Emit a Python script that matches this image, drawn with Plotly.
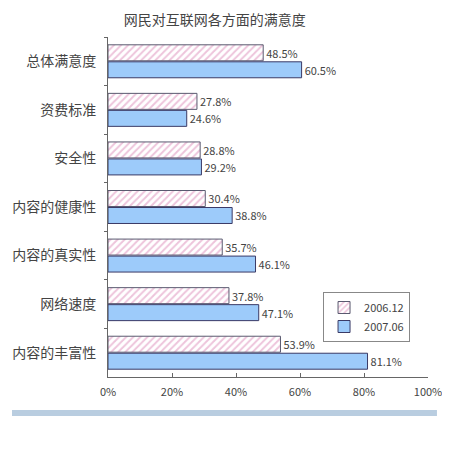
import plotly.graph_objects as go

# categories listed top to bottom
categories = ["总体满意度", "资费标准", "安全性", "内容的健康性", "内容的真实性", "网络速度", "内容的丰富性"]
series_names = ["2006.12", "2007.06"]
values_2006 = [48.5, 27.8, 28.8, 30.4, 35.7, 37.8, 53.9]
values_2007 = [60.5, 24.6, 29.2, 38.8, 46.1, 47.1, 81.1]
x_ticks = [0, 20, 40, 60, 80, 100]
x_tick_labels = ["0%", "20%", "40%", "60%", "80%", "100%"]

font_name = "Noto Sans CJK SC"

fig = go.Figure()

# pink hatched bars
fig.add_trace(go.Bar(
    y=categories, x=values_2006, orientation="h", name=series_names[0],
    marker=dict(color="white", line=dict(color="#5a5a70", width=1),
                pattern=dict(shape="/", fgcolor="#dc8ab8", size=5, solidity=0.4)),
    text=[f"{v}%" for v in values_2006], textposition="outside",
    textfont=dict(size=11, color="#444444", family=font_name),
    cliponaxis=False,
))
# blue bars
fig.add_trace(go.Bar(
    y=categories, x=values_2007, orientation="h", name=series_names[1],
    marker=dict(color="#9dcbfa", line=dict(color="#3a3a66", width=1)),
    text=[f"{v}%" for v in values_2007], textposition="outside",
    textfont=dict(size=11, color="#444444", family=font_name),
    cliponaxis=False,
))

# page body adds an 8px margin, so the figure is drawn 8px smaller
fig.update_layout(
    width=442, height=444,
    margin=dict(l=100, r=22, t=29, b=75, autoexpand=False),
    paper_bgcolor="white", plot_bgcolor="white",
    font=dict(family=font_name, color="#444444"),
    title=dict(text="网民对互联网各方面的满意度", x=0.468, xanchor="center",
               y=0.972, yanchor="middle", font=dict(size=14, color="#444444")),
    barmode="group", bargap=0.3, bargroupgap=0.06,
    showlegend=True,
    legend=dict(x=0.672, y=0.25, xanchor="left", yanchor="top",
                bordercolor="#888888", borderwidth=1, bgcolor="white",
                font=dict(size=11, color="#444444"),
                itemwidth=30, tracegroupgap=0),
)

fig.update_xaxes(
    range=[0, 100], tickvals=x_ticks, ticktext=x_tick_labels,
    showgrid=False, zeroline=False,
    showline=True, linecolor="#666666", linewidth=1,
    ticks="inside", ticklen=4, tickcolor="#666666",
    ticklabelstandoff=5,
    tickfont=dict(size=11, color="#444444"),
)
fig.update_yaxes(
    autorange="reversed",
    showgrid=False, zeroline=False,
    showline=True, linecolor="#666666", linewidth=1,
    ticks="outside", ticklen=3, tickcolor="#666666", tickson="boundaries",
    ticklabelstandoff=8,
    tickfont=dict(size=14, color="#444444"),
)

# light blue strip under the chart
fig.add_shape(type="rect", xref="paper", yref="paper",
              x0=-0.3, x1=1.028, y0=-0.115, y1=-0.097,
              fillcolor="#b9cde0", line=dict(width=0), layer="below")

fig.write_html("out.html")
